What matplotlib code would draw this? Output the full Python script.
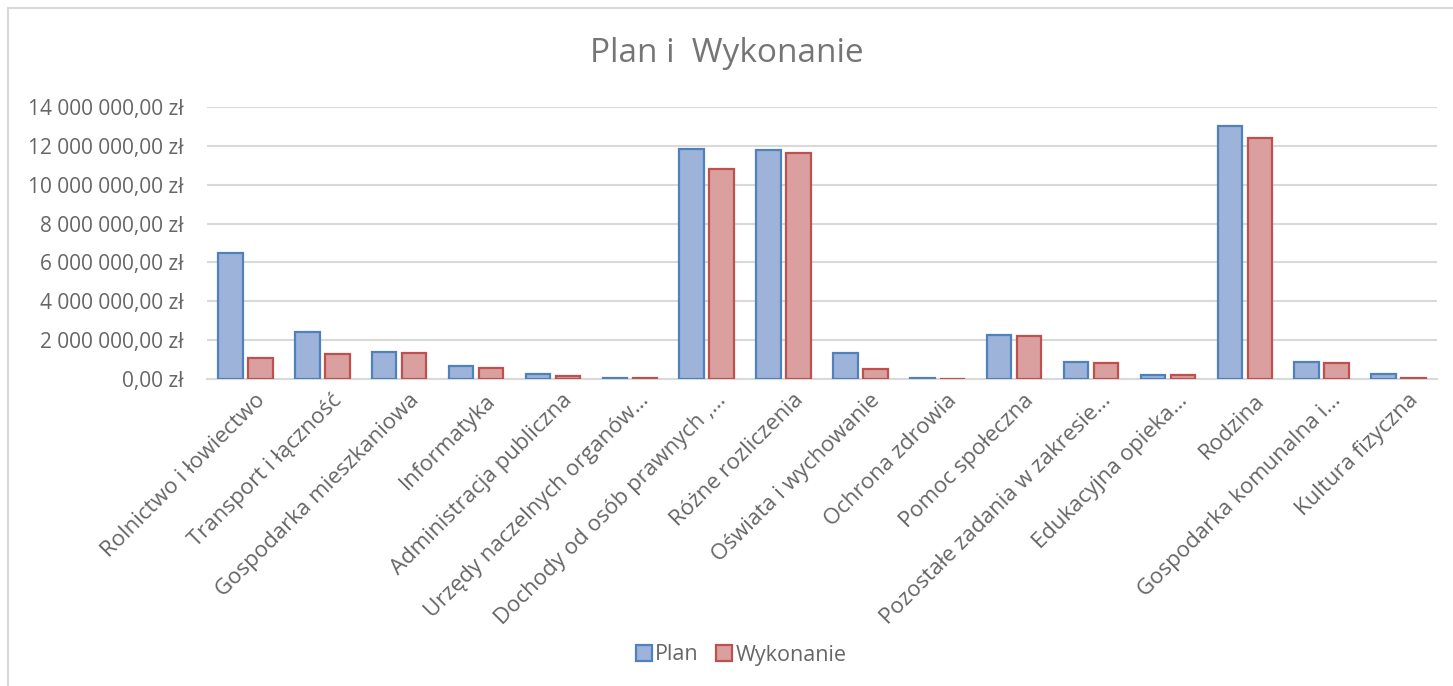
import numpy as np
import matplotlib
matplotlib.use("Agg")
import matplotlib.pyplot as plt
from matplotlib.ticker import FuncFormatter
from matplotlib.lines import Line2D

plt.rcParams["font.family"] = ["Open Sans", "DejaVu Sans"]

# --- data ---
categories = [
    "Rolnictwo i łowiectwo",
    "Transport i łączność",
    "Gospodarka mieszkaniowa",
    "Informatyka",
    "Administracja publiczna",
    "Urzędy naczelnych organów…",
    "Dochody od osób prawnych ,…",
    "Różne rozliczenia",
    "Oświata i wychowanie",
    "Ochrona zdrowia",
    "Pomoc społeczna",
    "Pozostałe zadania w zakresie…",
    "Edukacyjna opieka…",
    "Rodzina",
    "Gospodarka komunalna i…",
    "Kultura fizyczna",
]
plan = [6480000, 2430000, 1370000, 650000, 240000, 70000, 11840000, 11790000,
        1320000, 30000, 2280000, 860000, 200000, 13020000, 890000, 240000]
wykonanie = [1100000, 1270000, 1320000, 550000, 170000, 50000, 10790000, 11650000,
             530000, 0, 2210000, 810000, 190000, 12390000, 810000, 30000]
yticks = np.arange(0, 14000001, 2000000)

# --- figure ---
fig = plt.figure(figsize=(14.53, 6.86), dpi=100)
ax = fig.add_axes([207 / 1453, 1 - 379 / 686, (1437 - 207) / 1453, (379 - 107) / 686])

x = np.arange(len(categories))
w = 0.32
off = 0.195
ax.bar(x - off, plan, width=w, color="#9db3da", edgecolor="#4f81bd", linewidth=1.6, zorder=3)
ax.bar(x + off, wykonanie, width=w, color="#daa0a0", edgecolor="#c0504d", linewidth=1.6, zorder=3)

ax.set_xlim(-0.5, len(categories) - 0.5)
ax.set_ylim(0, 14000000)
ax.set_yticks(yticks)


def zl(v, pos):
    s = f"{int(v):,}".replace(",", " ")
    return s + ",00 zł"


ax.yaxis.set_major_formatter(FuncFormatter(zl))
ax.grid(axis="y", color="#d9d9d9", linewidth=1.5, zorder=0)
for sp in ["top", "right", "left"]:
    ax.spines[sp].set_visible(False)
ax.spines["bottom"].set_color("#d9d9d9")
ax.spines["bottom"].set_linewidth(1.5)
ax.tick_params(axis="both", length=0, colors="#666666", labelsize=15)
ax.tick_params(axis="y", pad=17)
ax.set_xticks(x)
ax.set_xticklabels(categories, rotation=45, ha="right", va="top",
                   rotation_mode="anchor", color="#666666", fontsize=16)
for lab in ax.get_xticklabels():
    lab.set_transform(lab.get_transform() + matplotlib.transforms.ScaledTranslation(0.09, -0.06, fig.dpi_scale_trans))

fig.text(0.5, 1 - 53 / 686, "Plan i  Wykonanie", ha="center", va="center",
         fontsize=24, color="#757575")

handles = [
    Line2D([], [], marker="s", linestyle="None", markersize=11,
           markerfacecolor="#9db3da", markeredgecolor="#4f81bd", markeredgewidth=1.6),
    Line2D([], [], marker="s", linestyle="None", markersize=11,
           markerfacecolor="#daa0a0", markeredgecolor="#c0504d", markeredgewidth=1.6),
]
fig.legend(handles, ["Plan", "Wykonanie"], loc="center", bbox_to_anchor=(0.509, 1 - 655 / 686),
           ncol=2, frameon=False, fontsize=15.5, labelcolor="#666666",
           handletextpad=0.02, columnspacing=0.7, handlelength=1.0)

# chart border (only top and left visible in the crop)
fig.add_artist(Line2D([8 / 1453, 8 / 1453], [0, 1 - 8 / 686], color="#d9d9d9", linewidth=1.5))
fig.add_artist(Line2D([8 / 1453, 1], [1 - 8 / 686, 1 - 8 / 686], color="#d9d9d9", linewidth=1.5))

fig.savefig("out.png", dpi=100)
